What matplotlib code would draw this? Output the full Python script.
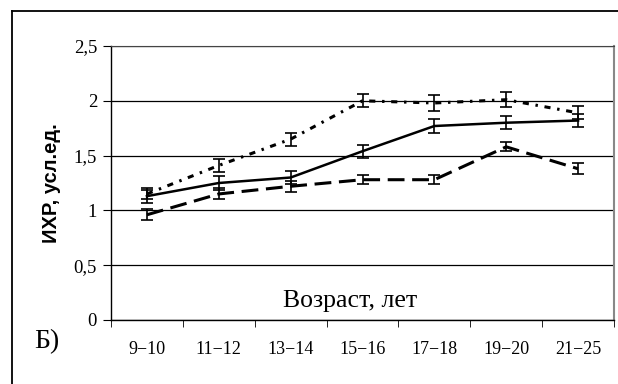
import numpy as np
import matplotlib
matplotlib.use("Agg")
import matplotlib.pyplot as plt
from matplotlib.lines import Line2D

# данные
ages = ["9\u221210", "11\u221212", "13\u221214", "15\u221216", "17\u221218", "19\u221220", "21\u221225"]
solid = [1.13, 1.25, 1.30, 1.54, 1.77, 1.80, 1.82]
solid_err = [0.06, 0.06, 0.06, 0.06, 0.06, 0.06, 0.06]
dotted = [1.15, 1.41, 1.65, 2.00, 1.98, 2.01, 1.89]
dotted_err = [0.05, 0.06, 0.06, 0.06, 0.07, 0.07, 0.06]
dashed = [0.96, 1.15, 1.22, 1.28, 1.28, 1.58, 1.38]
dashed_err = [0.05, 0.05, 0.05, 0.04, 0.04, 0.04, 0.05]
yticks = [0, 0.5, 1, 1.5, 2, 2.5]
ylabels = ["0", "0,5", "1", "1,5", "2", "2,5"]

serif = "Liberation Serif"

fig = plt.figure(figsize=(6.18, 3.84), dpi=100)
ax = fig.add_axes([111/618, 64/384, 503/618, 274/384])

x = np.arange(len(ages))
ekw = dict(color="black", capsize=4.3, elinewidth=1.2, capthick=1.2)
ax.errorbar(x, dotted, yerr=dotted_err, linestyle=(0, (2, 2.2, 0.8, 2.2)),
            linewidth=2.2, **ekw)
ax.errorbar(x, solid, yerr=solid_err, linestyle="-", linewidth=1.8, **ekw)
ax.errorbar(x, dashed, yerr=dashed_err, linestyle=(0, (5.5, 2.5)),
            linewidth=2.2, **ekw)

ax.set_xlim(-0.5, len(ages) - 0.5)
ax.set_ylim(0, 2.5)
ax.set_yticks(yticks)
ax.set_yticklabels(ylabels, fontfamily=serif, fontsize=13.5)
ax.set_xticks(x)
ax.set_xticklabels(ages, fontfamily=serif, fontsize=13)
ax.set_xticks(np.arange(len(ages) + 1) - 0.5, minor=True)
ax.tick_params(axis="x", which="major", length=0, pad=15)
ax.tick_params(axis="x", which="minor", length=5, direction="out")
ax.tick_params(axis="y", length=6, direction="out", pad=4)
ax.yaxis.grid(True, color="black", linewidth=0.9)
ax.set_axisbelow(True)

for s in ["left", "bottom"]:
    ax.spines[s].set_color("black")
    ax.spines[s].set_linewidth(1.0)
ax.spines["top"].set_color("#444444")
ax.spines["right"].set_color("#888888")
ax.spines["right"].set_linewidth(1.5)

ax.set_ylabel("ИХР, усл.ед.", fontfamily="Liberation Sans", fontweight="bold",
              fontsize=14.5, labelpad=9)
ax.text(0.475, 0.068, "Возраст, лет", transform=ax.transAxes, ha="center",
        va="center", fontfamily=serif, fontsize=18.5)
fig.text(47/618, 1 - 342/384, "Б)", ha="center", va="center",
         fontfamily=serif, fontsize=20)

# рамка
fig.add_artist(Line2D([12/618, 12/618], [0, 1 - 11/384], transform=fig.transFigure,
                      color="black", linewidth=1.3))
fig.add_artist(Line2D([12/618, 1], [1 - 11/384, 1 - 11/384], transform=fig.transFigure,
                      color="black", linewidth=1.3))

fig.savefig("out.png", dpi=100)
